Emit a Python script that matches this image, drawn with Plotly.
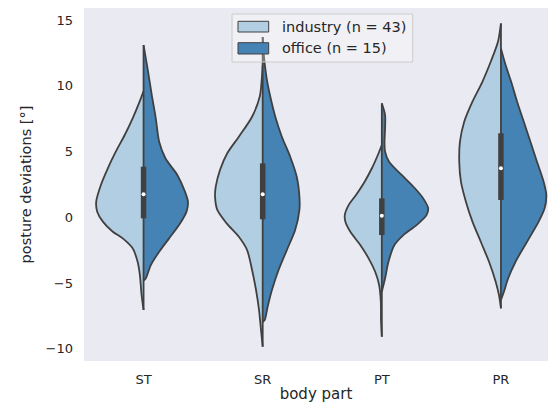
import plotly.graph_objects as go

# Body parts on the x axis
categories = ["ST", "SR", "PT", "PR"]

# Kernel density profiles per half violin: (posture deviation [°], density, arbitrary units)
ST_industry = [(9.6, 0), (9.05, 2.7), (7.53, 11), (6.26, 19), (4.99, 28), (3.73, 36), (2.46, 43),
               (1.19, 47.7), (0.43, 46.7), (-0.33, 41), (-1.10, 31), (-1.60, 21), (-2.36, 11),
               (-3.38, 6), (-4.39, 3.7), (-5.91, 2), (-7.05, 0)]
ST_office = [(13.1, 0), (11.33, 4), (9.30, 8.3), (7.53, 12.3), (5.75, 15.7), (4.49, 22), (3.22, 34),
             (1.95, 41.7), (1.19, 44.7), (0.43, 43.3), (-0.59, 35.7), (-1.60, 25.7), (-2.62, 15.7),
             (-3.63, 7.3), (-4.64, 2.3), (-4.82, 0)]

SR_industry = [(11.58, 0), (10.43, 1), (9.17, 3), (7.65, 10.7), (6.13, 24), (4.87, 35.7), (3.60, 43),
               (2.33, 47.3), (1.57, 48), (0.56, 45.7), (-0.46, 36.3), (-1.48, 24), (-2.49, 15.7),
               (-4.01, 10.7), (-5.53, 6.7), (-7.05, 3.7), (-8.57, 1.7), (-9.84, 0)]
SR_office = [(13.71, 0), (12.49, 1), (11.71, 2), (10.44, 4.3), (9.17, 7.7), (7.65, 12.7), (6.13, 19.3),
             (4.61, 27.7), (3.09, 34.3), (1.57, 37), (0.56, 37), (-0.97, 32.7), (-2.49, 24.3),
             (-4.01, 16), (-5.53, 9.3), (-6.80, 5), (-7.81, 2), (-7.96, 0)]

PT_industry = [(5.50, 0), (4.74, 4), (3.73, 10), (2.71, 17.3), (1.70, 26), (0.94, 33.3), (0.17, 37.3),
               (-0.33, 36.7), (-1.10, 31.7), (-2.11, 21.7), (-3.12, 13.3), (-4.14, 6.7), (-5.15, 2.7),
               (-6.42, 1), (-7.81, 0.8), (-9.08, 0)]
PT_office = [(8.67, 0), (7.78, 3.3), (6.77, 3.3), (5.75, 2.7), (4.99, 3.3), (4.23, 7.3), (3.22, 20),
             (2.21, 33.3), (1.44, 41.7), (0.68, 46.7), (0.17, 45), (-0.59, 35), (-1.35, 21.7),
             (-2.11, 12.7), (-3.38, 6.7), (-4.64, 3.3), (-5.66, 0)]

PR_industry = [(14.75, 0), (13.35, 3), (11.83, 10.3), (10.31, 18.7), (8.79, 28.7), (7.27, 37),
               (5.75, 41.3), (4.23, 42), (2.71, 40.3), (1.19, 35.3), (-0.33, 28.7), (-1.86, 20.3),
               (-3.38, 12), (-4.90, 5.3), (-5.91, 2), (-6.92, 0)]
PR_office = [(12.85, 0), (11.58, 4.7), (10.31, 10.3), (8.79, 16.3), (7.27, 23), (5.75, 29.7),
             (4.23, 36.3), (2.71, 43), (1.70, 45.7), (0.68, 44), (-0.33, 38), (-1.86, 26.3),
             (-3.38, 14.7), (-4.64, 7.3), (-5.66, 3), (-6.29, 0)]

industry_halves = [ST_industry, SR_industry, PT_industry, PR_industry]
office_halves = [ST_office, SR_office, PT_office, PR_office]

# Box statistics of both groups combined, per body part
q1 = [-0.08, -0.15, -1.35, 1.32]
median = [1.75, 1.75, 0.12, 3.73]
q3 = [3.85, 4.10, 1.44, 6.39]

groups = ["industry (n = 43)", "office (n = 15)"]

LIGHT = "#b1cee2"
DARK = "#4683b5"
EDGE = "#404040"
TEXT = "#262626"
HALF_WIDTH = 0.4 / 48.0  # category units per density unit

fig = go.Figure()

series = [(groups[0], industry_halves, LIGHT, -1),
          (groups[1], office_halves, DARK, 1)]

for name, halves, color, sign in series:
    for i, half in enumerate(halves):
        ys = [p[0] for p in half]
        xs = [i + sign * p[1] * HALF_WIDTH for p in half]
        fig.add_trace(go.Scatter(
            x=xs, y=ys, mode="lines", fill="toself", fillcolor=color,
            line=dict(color=EDGE, width=1.8, shape="spline", smoothing=0.8),
            name=name, legendgroup=name, showlegend=False, hoverinfo="skip"))

# Center line along the split of each violin
for i in range(len(categories)):
    all_y = [p[0] for p in industry_halves[i]] + [p[0] for p in office_halves[i]]
    fig.add_trace(go.Scatter(
        x=[i, i], y=[min(all_y), max(all_y)], mode="lines",
        line=dict(color=EDGE, width=1.8), showlegend=False, hoverinfo="skip"))

# Inner box (interquartile range) and median dot
for i in range(len(categories)):
    fig.add_trace(go.Scatter(
        x=[i, i], y=[q1[i], q3[i]], mode="lines",
        line=dict(color=EDGE, width=5.5), showlegend=False, hoverinfo="skip"))
fig.add_trace(go.Scatter(
    x=list(range(len(categories))), y=median, mode="markers",
    marker=dict(color="white", size=4, line=dict(width=0)),
    showlegend=False, hoverinfo="skip"))

# Legend box with patch swatches (paper coordinates of the plotting area)
legend_shapes = [
    dict(type="rect", xref="paper", yref="paper", x0=0.319, x1=0.7084, y0=0.847, y1=0.983,
         fillcolor="rgba(255,255,255,0.28)", line=dict(color="#cccccc", width=1), layer="above"),
]
swatch_rows = [(0.932, 0.9623, 0.947), (0.8697, 0.9017, 0.886)]
annotations = []
for (name, _, color, _), (y0, y1, yt) in zip(series, swatch_rows):
    legend_shapes.append(dict(type="rect", xref="paper", yref="paper", x0=0.3319, x1=0.398,
                              y0=y0, y1=y1, fillcolor=color,
                              line=dict(color=EDGE, width=1), layer="above"))
    annotations.append(dict(text=name, xref="paper", yref="paper", x=0.4224, y=yt,
                            xanchor="left", yanchor="middle", showarrow=False,
                            font=dict(size=14.5, color=TEXT)))

fig.update_layout(
    width=548, height=414,
    margin=dict(l=84, r=0, t=8, b=53),
    paper_bgcolor="white",
    plot_bgcolor="#eaeaf2",
    font=dict(family="DejaVu Sans", color=TEXT, size=13),
    showlegend=False,
    shapes=legend_shapes,
    annotations=annotations,
    xaxis=dict(
        range=[-0.5, 3.395],
        tickmode="array", tickvals=list(range(len(categories))), ticktext=categories,
        showgrid=False, zeroline=False, showline=False, ticks="",
        ticklabelstandoff=9,
        title=dict(text="body part", font=dict(size=15), standoff=2),
        tickfont=dict(size=13)),
    yaxis=dict(
        range=[-10.93, 15.92],
        tickmode="array", tickvals=[-10, -5, 0, 5, 10, 15],
        showgrid=False, zeroline=False, showline=False, ticks="",
        ticklabelstandoff=10,
        title=dict(text="posture deviations [°]", font=dict(size=14.5), standoff=10),
        tickfont=dict(size=13)),
)

fig.write_html("out.html")
